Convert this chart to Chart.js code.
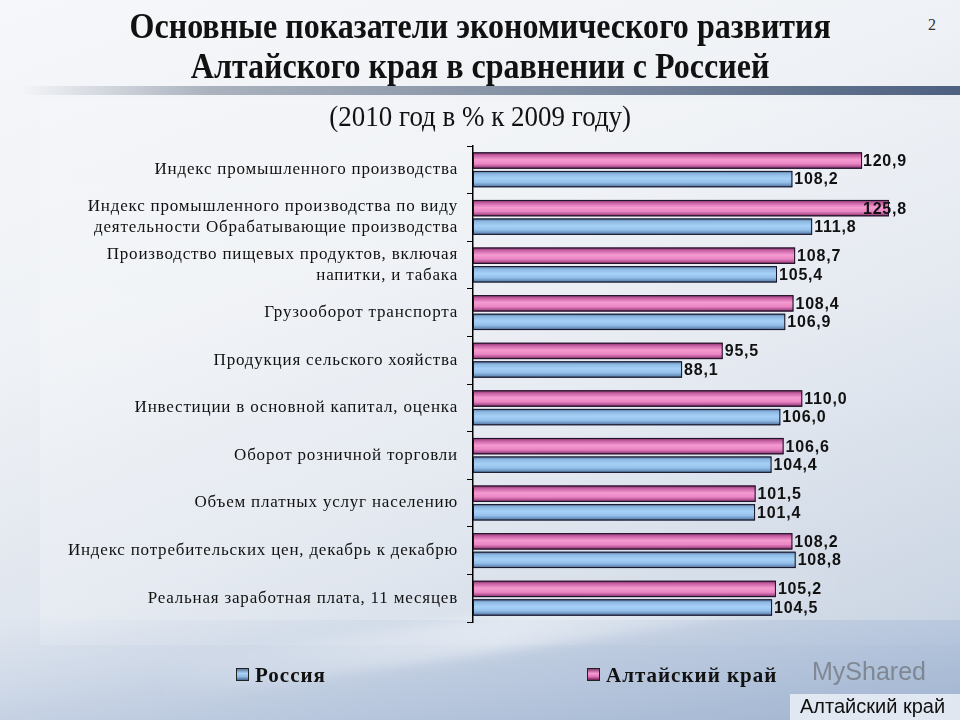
<!DOCTYPE html>
<html>
<head>
<meta charset="utf-8">
<script src="https://cdn.jsdelivr.net/npm/chart.js@4"></script>
<style>
  html, body { margin:0; padding:0; }
  body { width:960px; height:720px; position:relative; overflow:hidden;
    background: linear-gradient(160deg, #f6f7fa 0%, #eef1f5 35%, #dfe5ee 60%, #c3cfdf 85%, #aebfd6 100%); font-family: "Liberation Serif", serif; }
  #panel { position:absolute; left:40px; top:100px; width:920px; height:545px;
    background: linear-gradient(180deg, rgba(255,255,255,0.12), rgba(255,255,255,0.22)); }
  #bottom { position:absolute; left:0; top:620px; width:960px; height:100px;
    background: linear-gradient(172deg, rgba(205,216,232,0) 0%, rgba(200,212,230,0.5) 25%, rgba(180,196,220,0.8) 60%, rgba(160,180,208,0.95) 100%); }
  #streak { position:absolute; left:150px; top:615px; width:700px; height:36px; transform:rotate(-8deg);
    background: linear-gradient(90deg, rgba(255,255,255,0), rgba(255,255,255,0.45), rgba(255,255,255,0)); filter: blur(6px); }
  #band { position:absolute; left:20px; top:86px; width:940px; height:9px;
    background: linear-gradient(90deg, rgba(150,160,175,0) 0%, rgba(140,150,165,0.7) 20%, #7d8ba0 60%, #4d6080 100%); }
  #title { position:absolute; left:0; top:7px; width:960px; text-align:center; font-weight:bold; font-size:35px; line-height:40px; color:#111; }
  #title span { display:inline-block; transform:scaleX(0.915); transform-origin:center; white-space:nowrap; }
  #sub { position:absolute; left:0; top:100px; width:960px; text-align:center; font-size:29px; color:#111; }
  #sub span { display:inline-block; white-space:nowrap; transform:scaleX(0.93); }
  #pg { position:absolute; left:928px; top:16px; font-size:16px; color:#333; }
  canvas { position:absolute; left:0; top:0; }
  .leg { position:absolute; top:663px; font-weight:bold; font-size:21px; color:#111; letter-spacing:1px; white-space:nowrap; }
  .box { display:inline-block; width:11px; height:11px; border:1px solid #222; margin-right:6px; vertical-align:1px; }
  #corner { position:absolute; left:790px; top:694px; width:170px; height:26px; background:rgba(235,240,246,0.85); }
  #cornerText { position:absolute; left:800px; top:695px; font-family:"Liberation Sans", Arial, sans-serif; font-size:20px; color:#111; }
  #wm { position:absolute; left:812px; top:657px; font-family:"Liberation Sans", Arial, sans-serif; font-size:25px; color:rgba(90,90,90,0.55); }
</style>
</head>
<body>
<div id="panel"></div>
<div id="bottom"></div>
<div id="streak"></div>
<div id="band"></div>
<div id="title"><span>Основные показатели экономического развития</span><br><span>Алтайского края в сравнении с Россией</span></div>
<div id="sub"><span>(2010 год в % к 2009 году)</span></div>
<div id="pg">2</div>
<canvas id="c" width="960" height="720"></canvas>
<div class="leg" style="left:236px"><span class="box" style="background:linear-gradient(180deg,#5a7aa0,#a8d2f8 40%,#8cb8e4 70%,#4a6890)"></span>Россия</div>
<div class="leg" style="left:587px"><span class="box" style="background:linear-gradient(180deg,#8a3a70,#f59ad0 40%,#e070b8 70%,#6a2050)"></span>Алтайский край</div>
<div id="wm">MyShared</div>
<div id="corner"></div>
<div id="cornerText">Алтайский край</div>
<script>
const categories = [
  "Индекс промышленного производства",
  ["Индекс промышленного производства по виду", "деятельности Обрабатывающие производства"],
  ["Производство пищевых продуктов, включая", "напитки, и табака"],
  "Грузооборот транспорта",
  "Продукция сельского хояйства",
  "Инвестиции в основной капитал, оценка",
  "Оборот розничной торговли",
  "Объем платных услуг населению",
  "Индекс потребительских цен, декабрь к декабрю",
  "Реальная заработная плата, 11 месяцев"
];
const altaiValues  = [120.9, 125.8, 108.7, 108.4, 95.5, 110.0, 106.6, 101.5, 108.2, 105.2];
const russiaValues = [108.2, 111.8, 105.4, 106.9, 88.1, 106.0, 104.4, 101.4, 108.8, 104.5];
const seriesNames = ["Алтайский край", "Россия"];
const axisMin = 50, axisMax = 130;

const gradStops = {
  0: [[0,'#7a2a62'],[0.18,'#c860a4'],[0.45,'#f59ad0'],[0.7,'#ea86c4'],[0.88,'#b05090'],[1,'#5a1a48']],
  1: [[0,'#4e6e96'],[0.18,'#8cb8e2'],[0.45,'#a6d0f6'],[0.7,'#94c0ea'],[0.88,'#6a90bc'],[1,'#3e5a80']]
};

const barStyle = {
  id: 'barStyle',
  afterDatasetDraw(chart, args) {
    const ctx = chart.ctx;
    const meta = args.meta;
    const stops = gradStops[args.index];
    ctx.save();
    meta.data.forEach(bar => {
      const p = bar.getProps(['x','y','base','height'], true);
      const left = Math.max(p.base, chart.chartArea.left);
      const top = p.y - p.height/2;
      const g = ctx.createLinearGradient(0, top, 0, top + p.height);
      stops.forEach(s => g.addColorStop(s[0], s[1]));
      ctx.fillStyle = g;
      ctx.fillRect(left, top, p.x - left, p.height);
      ctx.strokeStyle = '#1a1426';
      ctx.lineWidth = 1;
      ctx.strokeRect(left + 0.5, top + 0.5, p.x - left - 1, p.height - 1);
    });
    ctx.restore();
  },
  afterDatasetsDraw(chart) {
    const ctx = chart.ctx;
    ctx.save();
    ctx.font = 'bold 16px "Liberation Sans", Arial, sans-serif';
    ctx.letterSpacing = '0.8px';
    ctx.fillStyle = '#111';
    ctx.textBaseline = 'middle';
    chart.data.datasets.forEach((ds, di) => {
      const meta = chart.getDatasetMeta(di);
      meta.data.forEach((bar, i) => {
        const p = bar.getProps(['x','y'], true);
        const txt = ds.data[i].toFixed(1).replace('.', ',');
        const w = ctx.measureText(txt).width;
        const x = Math.min(p.x + 2, chart.chartArea.right - 5 - w);
        ctx.fillText(txt, x, p.y + 1);
      });
    });
    ctx.restore();
  }
};

const spacing = {
  id: 'spacing',
  beforeDraw(chart) { chart.ctx.letterSpacing = '0.8px'; }
};

new Chart(document.getElementById('c'), {
  type: 'bar',
  data: {
    labels: categories,
    datasets: [
      { label: seriesNames[0], data: altaiValues, base: axisMin, backgroundColor: '#ee8ac6', borderColor: '#1a1426', borderWidth: 1 },
      { label: seriesNames[1], data: russiaValues, base: axisMin, backgroundColor: '#9ecaf2', borderColor: '#1a1426', borderWidth: 1 }
    ]
  },
  options: {
    indexAxis: 'y',
    responsive: false,
    animation: false,
    devicePixelRatio: 1,
    layout: { padding: { left: 0, top: 146, right: 48, bottom: 98 } },
    datasets: { bar: { categoryPercentage: 0.78, barPercentage: 0.88 } },
    plugins: { legend: { display: false }, tooltip: { enabled: false } },
    scales: {
      x: { display: false, min: axisMin, max: axisMax },
      y: {
        afterFit(scale) { scale.width = 473; },
        border: { display: true, color: '#000', width: 1.5 },
        grid: { display: true, drawOnChartArea: false, drawTicks: true, tickLength: 6, color: '#000', lineWidth: 1, offset: true },
        ticks: { color: '#111', padding: 9, font: { family: '"Liberation Serif", serif', size: 17, lineHeight: 1.25 } }
      }
    }
  },
  plugins: [spacing, barStyle]
});
</script>
</body>
</html>
